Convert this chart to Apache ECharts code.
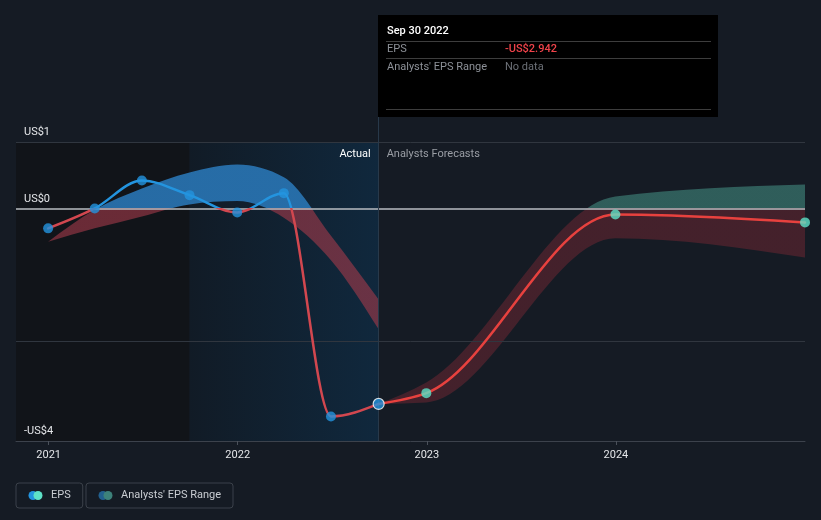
<!DOCTYPE html>
<html><head><meta charset="utf-8">
<script src="https://cdn.jsdelivr.net/npm/echarts@6/dist/echarts.min.js"></script>
<style>html,body{margin:0;padding:0;background:#151b24}#c{width:821px;height:520px}</style>
</head><body><div id="c"></div>
<script>
// ---- data ----
const histDates = ['2020-12-31','2021-03-31','2021-06-30','2021-09-30','2021-12-31','2022-03-31','2022-06-30','2022-09-30'];
const histEps = [-0.30, 0.00, 0.42, 0.20, -0.06, 0.23, -3.13, -2.942];
const histRangeLow = [-0.50, -0.30, -0.12, 0.06, 0.11, -0.14, -0.78, -1.82];
const histRangeHigh = [-0.50, -0.02, 0.30, 0.54, 0.66, 0.47, -0.41, -1.37];
const fcDates = ['2022-09-30','2022-12-31','2023-12-31','2024-12-31'];
const fcEps = [-2.942, -2.78, -0.09, -0.21];
const fcLow = [-2.942, -2.92, -0.45, -0.74];
const fcHigh = [-2.942, -2.62, 0.18, 0.36];
const yTickValues = [1, 0, -3.5];
const yTickLabels = ['US$1', 'US$0', '-US$4'];
const yGridValues = [1, -2];
const xTickDates = ['2021-01-01','2022-01-01','2023-01-01','2024-01-01'];
const xTickLabels = ['2021','2022','2023','2024'];
const xMinDate = '2020-10-30', xMaxDate = '2024-12-31';
const yMin = -3.5, yMax = 1.376;
const actualStartDate = '2021-09-30', actualEndDate = '2022-09-30';
const tipDate = 'Sep 30 2022';

// ---- helpers ----
const FS = 11;
const ts = s => Date.UTC(+s.slice(0, 4), +s.slice(5, 7) - 1, +s.slice(8, 10));
const pair = (d, v) => d.map((x, i) => [ts(x), v[i]]);
const xMin = ts(xMinDate), xMax = ts(xMaxDate);
const actualStart = ts(actualStartDate), actualEnd = ts(actualEndDate);
const xTicks = xTickDates.map(ts);

// monotone-x cubic path segments through pixel points (rendering only)
function monoSegs(p) {
  const n = p.length, sgn = v => (v < 0 ? -1 : 1);
  if (n < 2) return '';
  const h = [], s = [], m = [];
  for (let i = 0; i < n - 1; i++) { h[i] = p[i + 1][0] - p[i][0]; s[i] = (p[i + 1][1] - p[i][1]) / h[i]; }
  if (n === 2) { m[0] = m[1] = s[0]; }
  else {
    for (let i = 1; i < n - 1; i++) {
      const q = (s[i - 1] * h[i] + s[i] * h[i - 1]) / (h[i - 1] + h[i]);
      m[i] = (sgn(s[i - 1]) + sgn(s[i])) * Math.min(Math.abs(s[i - 1]), Math.abs(s[i]), 0.5 * Math.abs(q)) || 0;
    }
    m[0] = (3 * s[0] - m[1]) / 2;
    m[n - 1] = (3 * s[n - 2] - m[n - 2]) / 2;
  }
  let d = '';
  for (let i = 0; i < n - 1; i++) {
    const dx = h[i] / 3;
    d += ` C ${p[i][0] + dx} ${p[i][1] + dx * m[i]} ${p[i + 1][0] - dx} ${p[i + 1][1] - dx * m[i + 1]} ${p[i + 1][0]} ${p[i + 1][1]}`;
  }
  return d;
}
function signGradient(api, pos, neg) {
  const H = api.getHeight();
  const f = Math.min(1, Math.max(0, api.coord([xMin, 0])[1] / H));
  return new echarts.graphic.LinearGradient(0, 0, 0, H,
    [{offset: 0, color: pos}, {offset: f, color: pos}, {offset: f, color: neg}, {offset: 1, color: neg}], true);
}
function bandSeries(name, dates, lo, hi, pos, neg) {
  return {
    name, type: 'custom', z: 2, silent: true, clip: true,
    data: pair(dates, hi),
    renderItem: (params, api) => {
      if (params.dataIndex !== 0) return null;
      const up = dates.map((d, i) => api.coord([ts(d), hi[i]]));
      const dn = dates.map((d, i) => api.coord([ts(d), lo[i]])).reverse();
      const path = `M ${up[0][0]} ${up[0][1]}` + monoSegs(up) + ` L ${dn[0][0]} ${dn[0][1]}` + monoSegs(dn) + ' Z';
      return {type: 'path', shape: {pathData: path}, style: {fill: signGradient(api, pos, neg), stroke: 'none'}};
    }
  };
}
function lineSeries(name, dates, vals, pos, neg) {
  return {
    name, type: 'custom', z: 4, silent: true, clip: false,
    data: pair(dates, vals),
    renderItem: (params, api) => {
      if (params.dataIndex !== 0) return null;
      const pts = dates.map((d, i) => api.coord([ts(d), vals[i]]));
      const path = `M ${pts[0][0]} ${pts[0][1]}` + monoSegs(pts);
      return {type: 'path', shape: {pathData: path},
        style: {fill: 'none', stroke: signGradient(api, pos, neg), lineWidth: 2.5, lineJoin: 'round', lineCap: 'round'}};
    }
  };
}
function icon(c1, c2) {
  const svg = `<svg xmlns="http://www.w3.org/2000/svg" width="36" height="20" viewBox="0 0 36 20"><circle cx="10" cy="10" r="9" fill="${c1}"/><circle cx="20" cy="10" r="9" fill="${c2}"/></svg>`;
  return 'image://data:image/svg+xml;charset=utf-8,' + encodeURIComponent(svg);
}

const chart = echarts.init(document.getElementById('c'), null, {renderer: 'canvas'});
const lastEps = histEps[histEps.length - 1];
const epsText = (lastEps < 0 ? '-' : '') + 'US$' + Math.abs(lastEps).toFixed(3);

const legendCommon = {
  top: 483, orient: 'horizontal', selectedMode: false,
  borderColor: '#3b414a', borderWidth: 1, borderRadius: 3,
  padding: [7, 12, 7, 12], itemWidth: 18, itemHeight: 10, itemGap: 0,
  textStyle: {color: '#c9cdd2', fontSize: FS, fontFamily: 'Roboto'}
};

const option = {
  backgroundColor: '#151b24',
  animation: false,
  textStyle: {fontFamily: 'Roboto'},
  grid: {left: 16, right: 16, top: 117, bottom: 79, containLabel: false},
  xAxis: {
    type: 'value', min: xMin, max: xMax, z: 10,
    axisLine: {show: true, onZero: false, lineStyle: {color: '#3c424c', width: 1}},
    axisTick: {show: true, length: 4, lineStyle: {color: '#4a505a'}, customValues: xTicks},
    axisLabel: {color: '#e4e6e9', fontSize: FS, margin: 9, customValues: xTicks,
      formatter: v => { const i = xTicks.indexOf(v); return i >= 0 ? xTickLabels[i] : ''; }},
    splitLine: {show: false}
  },
  yAxis: {
    type: 'value', min: yMin, max: yMax, z: 10,
    axisLine: {show: false}, axisTick: {show: false}, splitLine: {show: false},
    axisLabel: {inside: true, color: '#e4e6e9', fontSize: FS, margin: 8, verticalAlign: 'bottom', padding: [0, 0, 4, 0],
      customValues: yTickValues,
      formatter: v => { const i = yTickValues.indexOf(v); return i >= 0 ? yTickLabels[i] : ''; }}
  },
  legend: [
    Object.assign({}, legendCommon, {left: 16, data: [{name: 'EPS', icon: icon('#2394df', '#5ee2c8')}]}),
    Object.assign({}, legendCommon, {left: 86, data: [{name: "Analysts' EPS Range", icon: icon('#22608f', '#3d827b')}]})
  ],
  series: [
    { // 0 backgrounds, grid lines
      type: 'line', data: [], z: 1, silent: true,
      markArea: {silent: true, z: 1, data: [
        [{xAxis: xMin, yAxis: 1, itemStyle: {color: '#111419'}}, {xAxis: actualStart, yAxis: yMin}],
        [{xAxis: actualStart, yAxis: 1,
          itemStyle: {color: new echarts.graphic.LinearGradient(0, 0, 1, 0, [{offset: 0, color: '#111b26'}, {offset: 1, color: '#10283d'}])},
          label: {show: true, position: 'insideTopRight', distance: 7, padding: [0, 1, 0, 0], formatter: 'Actual', color: '#ffffff', fontSize: FS}},
         {xAxis: actualEnd, yAxis: yMin}],
        [{xAxis: actualEnd, yAxis: 1, itemStyle: {color: 'rgba(0,0,0,0)'},
          label: {show: true, position: 'insideTopLeft', distance: 7, padding: [0, 0, 0, 1], formatter: 'Analysts Forecasts', color: '#9a9ea5', fontSize: FS}},
         {xAxis: xMax, yAxis: yMin}]
      ]},
      markLine: {silent: true, symbol: 'none', label: {show: false}, z: 3, data: [
        ...yGridValues.map(v => ({yAxis: v, lineStyle: {color: '#30363f', width: 1, type: 'solid'}})),
        {yAxis: 0, lineStyle: {color: '#b9bdc2', width: 1.5, type: 'solid'}},
        {xAxis: actualEnd, lineStyle: {color: '#28394a', width: 1, type: 'solid'}}
      ]}
    },
    bandSeries("Analysts' EPS Range", histDates, histRangeLow, histRangeHigh, 'rgba(41,117,180,0.9)', 'rgba(165,58,74,0.6)'),
    bandSeries("Analysts' EPS Range", fcDates, fcLow, fcHigh, 'rgba(54,110,104,0.8)', 'rgba(125,40,52,0.45)'),
    lineSeries('EPS', histDates, histEps, '#2394df', '#d2474f'),
    lineSeries('EPS', fcDates, fcEps, '#e8413e', '#e8413e'),
    { // hist points
      name: 'EPS', type: 'scatter', symbolSize: 10, z: 5, silent: true, color: '#2394df',
      itemStyle: {color: '#2394df'},
      data: pair(histDates, histEps).map((p, i, a) => i === a.length - 1
        ? {value: p, symbolSize: 11, itemStyle: {color: '#2394df', borderColor: '#ffffff', borderWidth: 1.2}} : p)
    },
    { // forecast points
      name: 'EPS', type: 'scatter', symbolSize: 10, z: 5, silent: true, color: '#5ee2c8',
      itemStyle: {color: '#5ee2c8'},
      data: pair(fcDates, fcEps).slice(1)
    }
  ],
  graphic: [{
    type: 'group', left: 378, top: 15, silent: true,
    children: [
      {type: 'rect', shape: {x: 0, y: 0, width: 340, height: 102}, style: {fill: '#000000'}},
      {type: 'text', x: 9, y: 16.5, style: {text: tipDate, fill: '#ffffff', font: `500 ${FS}px Roboto`, verticalAlign: 'middle'}},
      {type: 'line', shape: {x1: 8, y1: 26.5, x2: 333, y2: 26.5}, style: {stroke: '#3d3d3d', lineWidth: 1}},
      {type: 'text', x: 9, y: 34, style: {text: 'EPS', fill: '#8d9198', font: `${FS}px Roboto`, verticalAlign: 'middle'}},
      {type: 'text', x: 127, y: 34, style: {text: epsText, fill: '#f0434a', font: `500 ${FS}px Roboto`, verticalAlign: 'middle'}},
      {type: 'line', shape: {x1: 8, y1: 43.5, x2: 333, y2: 43.5}, style: {stroke: '#3d3d3d', lineWidth: 1}},
      {type: 'text', x: 9, y: 52, style: {text: "Analysts' EPS Range", fill: '#8d9198', font: `${FS}px Roboto`, verticalAlign: 'middle'}},
      {type: 'text', x: 127, y: 52, style: {text: 'No data', fill: '#6c7077', font: `${FS}px Roboto`, verticalAlign: 'middle'}},
      {type: 'line', shape: {x1: 8, y1: 94.5, x2: 333, y2: 94.5}, style: {stroke: '#3d3d3d', lineWidth: 1}}
    ]
  }]
};
chart.setOption(option);
</script>
</body></html>
